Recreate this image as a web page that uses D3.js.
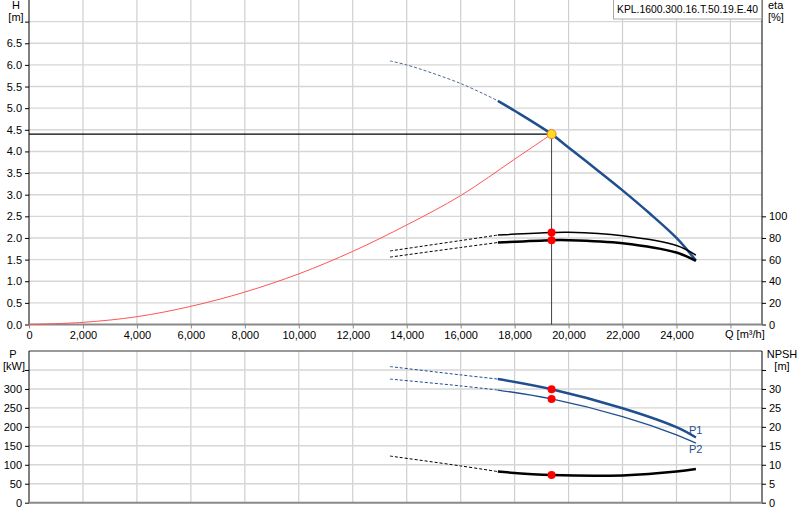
<!DOCTYPE html>
<html><head><meta charset="utf-8">
<script src="https://cdn.jsdelivr.net/npm/d3@7"></script>
<style>
body{margin:0;background:#fff;}
svg{display:block;font-family:"Liberation Sans",Arial,sans-serif;}
</style></head><body>
<svg id="c" width="800" height="520"></svg>
<script>
// ---------- data ----------
const title = "KPL.1600.300.16.T.50.19.E.40";
const qTicks = [0,2000,4000,6000,8000,10000,12000,14000,16000,18000,20000,22000,24000,26000];
const hTicks = [0,0.5,1,1.5,2,2.5,3,3.5,4,4.5,5,5.5,6,6.5,7];
const etaTicks = [0,20,40,60,80,100];
const pTicks = [0,50,100,150,200,250,300,350];
const npshTicks = [0,5,10,15,20,25,30,35];
const qDashEnd = 17380;      // allowed range starts here
const qDuty = 19370, hDuty = 4.40;

const qH   = [13380,14000,16000,17380,18000,19370,20000,21000,22000,23000,24000,24720];
const hH   = [6.09, 6.00, 5.57, 5.17, 4.94, 4.40, 4.09, 3.60, 3.10, 2.57, 2.00, 1.48];

const qSys = [0,2000,4000,6000,8000,10000,12000,14000,16000,18000,19370];
const hSys = [0,0.05,0.18,0.42,0.75,1.17,1.69,2.30,2.98,3.82,4.40];

const qEta  = [13380,16000,17380,19370,20000,22000,24000,24720];
const eta1  = [68.0, 77.6, 82.7, 85.0, 85.2, 82.0, 73.0, 64.1];
const eta2  = [62.3, 71.2, 75.8, 78.0, 78.0, 75.2, 66.5, 58.8];

const qP   = [13380,16000,17380,19370,22000,24000,24720];
const p1   = [359, 337, 326, 299, 249, 199, 172];
const p2   = [326, 308, 297, 273.6, 227, 179, 157];
const npsh = [12.3, 9.7, 8.2, 7.3, 7.2, 8.2, 8.9];

const dutyEta1 = 85.0, dutyEta2 = 78.0, dutyP1 = 299, dutyP2 = 273.6, dutyNpsh = 7.3;

// ---------- scales ----------
const svg = d3.select("#c");
const X0 = 29, X1 = 762;
const x = d3.scaleLinear().domain([0,27170]).range([X0,X1]);
const yH = d3.scaleLinear().domain([0,7.5]).range([324.5,0]);
const yEta = d3.scaleLinear().domain([0,300]).range([324.5,0]);
const yP = d3.scaleLinear().domain([0,400]).range([502.7,351]);
const yN = d3.scaleLinear().domain([0,40]).range([502.7,351]);

const blue = "#1f4f8f";
const font = 11;

// ---------- grids ----------
function grid(g, yScale, yt, top, bottom){
  g.selectAll(".vg").data(qTicks.filter(d=>d>0)).join("line")
    .attr("x1",d=>x(d)).attr("x2",d=>x(d)).attr("y1",top).attr("y2",bottom)
    .attr("stroke","#cfcfcf").attr("stroke-width",1.2);
  g.selectAll(".hg").data(yt.filter(d=>d>0)).join("line")
    .attr("x1",X0).attr("x2",X1).attr("y1",d=>yScale(d)).attr("y2",d=>yScale(d))
    .attr("stroke","#d6d6d6").attr("stroke-width",1.4);
}
grid(svg.append("g"), yH, hTicks, 0, 324.5);
grid(svg.append("g"), yP, pTicks, 351, 502.7);

// ---------- axes ----------
function styleAxis(g){
  g.selectAll("text").attr("font-size",font).attr("fill","#000").attr("font-family","Liberation Sans, Arial, sans-serif");
  g.selectAll(".tick line").attr("stroke","#000");
}
// top panel
const axL = svg.append("g").attr("transform",`translate(${X0},0)`)
  .call(d3.axisLeft(yH).tickValues(hTicks).tickSize(4).tickPadding(3).tickFormat(d=>d===7?"":d3.format(".1f")(d)));
styleAxis(axL); axL.select(".domain").attr("stroke","#000").attr("d",`M0,0V324.5`);
const axR = svg.append("g").attr("transform",`translate(${X1},0)`)
  .call(d3.axisRight(yEta).tickValues(etaTicks).tickSize(4).tickPadding(3).tickFormat(d3.format("d")));
styleAxis(axR); axR.select(".domain").attr("stroke","#000").attr("d",`M0,0V324.5`);
const axB = svg.append("g").attr("transform","translate(0,324.5)")
  .call(d3.axisBottom(x).tickValues(qTicks).tickSize(4).tickPadding(3).tickFormat(d=>d===26000?"":d3.format(",")(d)));
styleAxis(axB); axB.select(".domain").attr("stroke","#888").attr("stroke-width",2).attr("d",`M${X0},0H${X1}`);
axB.selectAll(".tick line").attr("stroke","#888");

// bottom panel
svg.append("line").attr("x1",X0).attr("x2",X1).attr("y1",351).attr("y2",351).attr("stroke","#777").attr("stroke-width",1.5);
const bL = svg.append("g").attr("transform",`translate(${X0},0)`)
  .call(d3.axisLeft(yP).tickValues(pTicks).tickSize(4).tickPadding(3).tickFormat(d=>d===350?"":d));
styleAxis(bL); bL.select(".domain").attr("stroke","#000").attr("d",`M0,351V502.7`);
const bR = svg.append("g").attr("transform",`translate(${X1},0)`)
  .call(d3.axisRight(yN).tickValues(npshTicks).tickSize(4).tickPadding(3).tickFormat(d=>d===35?"":d));
styleAxis(bR); bR.select(".domain").attr("stroke","#000").attr("d",`M0,351V502.7`);
svg.append("line").attr("x1",X0).attr("x2",X1).attr("y1",502.7).attr("y2",502.7).attr("stroke","#888").attr("stroke-width",2);

// axis titles
function txt(t,xx,yy,anchor){svg.append("text").attr("x",xx).attr("y",yy).attr("font-size",font).attr("text-anchor",anchor||"middle").text(t);}
txt("H",16,9); txt("[m]",16,21);
txt("eta",768,9,"start"); txt("[%]",768,21,"start");
txt("Q [m³/h]",725,338,"start");
txt("P",13,358); txt("[kW]",14,370);
txt("NPSH",782,358); txt("[m]",782,370);

// title box
svg.append("rect").attr("x",613.5).attr("y",-1).attr("width",148).attr("height",20)
  .attr("fill","#fff").attr("stroke","#aaa");
svg.append("text").attr("x",617).attr("y",13).attr("font-size",10.6)
  .attr("textLength",141).attr("lengthAdjust","spacingAndGlyphs").text(title);

// ---------- curves ----------
const curve = d3.curveCatmullRom.alpha(0.5);
function drawCurve(qs, vs, yScale, color, w, dashColor){
  const pts = qs.map((q,i)=>[q,vs[i]]);
  const line = d3.line().x(d=>x(d[0])).y(d=>yScale(d[1])).curve(curve);
  const dashed = pts.filter(d=>d[0]<=qDashEnd);
  const solid = pts.filter(d=>d[0]>=qDashEnd);
  svg.append("path").attr("d",line(dashed)).attr("fill","none").attr("stroke",dashColor||color)
    .attr("stroke-width",1).attr("stroke-dasharray","3,2");
  svg.append("path").attr("d",line(solid)).attr("fill","none").attr("stroke",color).attr("stroke-width",w);
}
// system curve
svg.append("path").attr("d",d3.line().x((d,i)=>x(qSys[i])).y(d=>yH(d)).curve(curve)(hSys))
  .attr("fill","none").attr("stroke","#ff5555").attr("stroke-width",1);
// duty lines
svg.append("line").attr("x1",X0).attr("x2",x(qDuty)).attr("y1",yH(hDuty)).attr("y2",yH(hDuty)).attr("stroke","#000").attr("stroke-width",1.2);
svg.append("line").attr("x1",x(qDuty)).attr("x2",x(qDuty)).attr("y1",yH(hDuty)).attr("y2",yH(0)).attr("stroke","#444").attr("stroke-width",1);

drawCurve(qH, hH, yH, blue, 2.5, "#4a6a90");
drawCurve(qEta, eta1, yEta, "#000", 1.5);
drawCurve(qEta, eta2, yEta, "#000", 2.5);
drawCurve(qP, p1, yP, blue, 2.5);
drawCurve(qP, p2, yP, blue, 1.3);
drawCurve(qP, npsh, yN, "#000", 2.5);

// points
function dot(yy){svg.append("circle").attr("cx",x(qDuty)).attr("cy",yy).attr("r",4).attr("fill","#ff0000");}
dot(yEta(dutyEta1)); dot(yEta(dutyEta2));
dot(yP(dutyP1)); dot(yP(dutyP2)); dot(yN(dutyNpsh));
svg.append("circle").attr("cx",x(qDuty)).attr("cy",yH(hDuty)).attr("r",4.5)
  .attr("fill","#ffe020").attr("stroke","#ff7020").attr("stroke-width",1);

// P1/P2 labels
svg.append("text").attr("x",689).attr("y",434).attr("font-size",font).attr("fill",blue).text("P1");
svg.append("text").attr("x",689).attr("y",453).attr("font-size",font).attr("fill",blue).text("P2");
</script></body></html>
